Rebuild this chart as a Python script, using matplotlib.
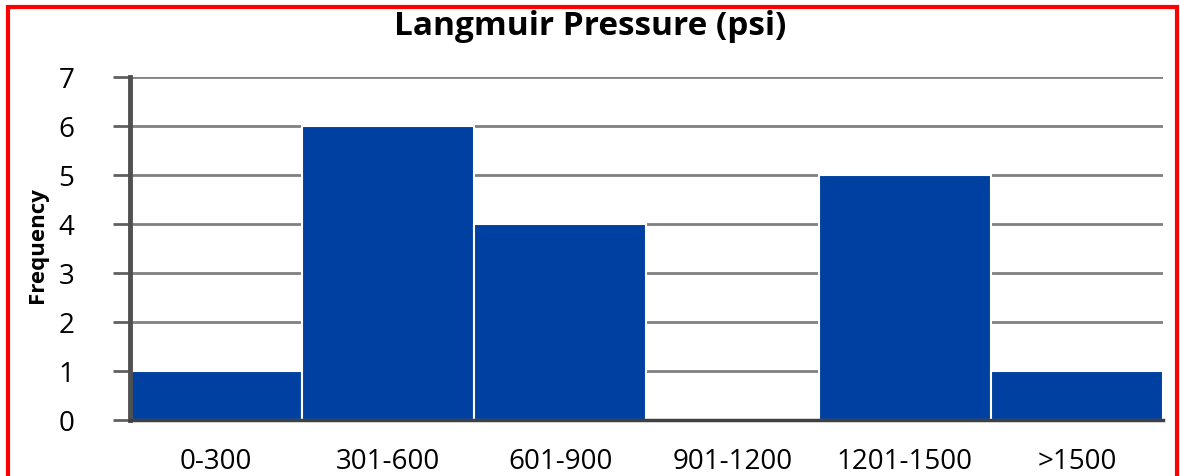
import numpy as np
import matplotlib; matplotlib.use('Agg'); import matplotlib.pyplot as plt
import matplotlib.patches as pat

cats = ['0-300', '301-600', '601-900', '901-1200', '1201-1500', '>1500']
freq = [1, 6, 4, 0, 5, 1]
yticks = [0, 1, 2, 3, 4, 5, 6, 7]

plt.rcParams['font.family'] = ['Open Sans', 'DejaVu Sans']

fig = plt.figure(figsize=(11.8, 4.76), dpi=100)
ax = fig.add_axes([0.110, 0.1176, 0.8756, 0.7206])

x = np.arange(len(cats))
ax.bar(x, freq, width=1.0, color='#0040A0', edgecolor='white', linewidth=1.5, zorder=3)
ax.set_xlim(-0.5, len(cats) - 0.5)
ax.set_ylim(0, 7)
ax.set_yticks(yticks)
ax.set_xticks(x)
ax.set_xticklabels(cats, fontsize=20)
ax.tick_params(axis='y', labelsize=20, length=12, width=2, color='#606060', pad=28)
ax.tick_params(axis='x', length=0, pad=20)
ax.yaxis.grid(True, color='#808080', lw=2, zorder=0)
for s in ['top', 'right']:
    ax.spines[s].set_visible(False)
ax.spines['left'].set_color('#505050'); ax.spines['left'].set_linewidth(3.5)
ax.spines['bottom'].set_color('#404040'); ax.spines['bottom'].set_linewidth(2.5)
ax.spines['left'].set_zorder(4); ax.spines['bottom'].set_zorder(4)

ax.set_ylabel('Frequency', fontsize=16, fontweight='bold')
ax.yaxis.set_label_coords(-0.079, 0.51)
fig.text(0.5, 0.944, 'Langmuir Pressure (psi)', ha='center', va='center',
         fontsize=24, fontweight='bold')

# red frame around the chart
fig.patches.append(pat.Rectangle((8/1180, -0.05), 1169/1180, 1 - 7/476 + 0.05,
                                 transform=fig.transFigure, fill=False,
                                 edgecolor='red', lw=3, zorder=10))

plt.savefig('out.png', dpi=100)
